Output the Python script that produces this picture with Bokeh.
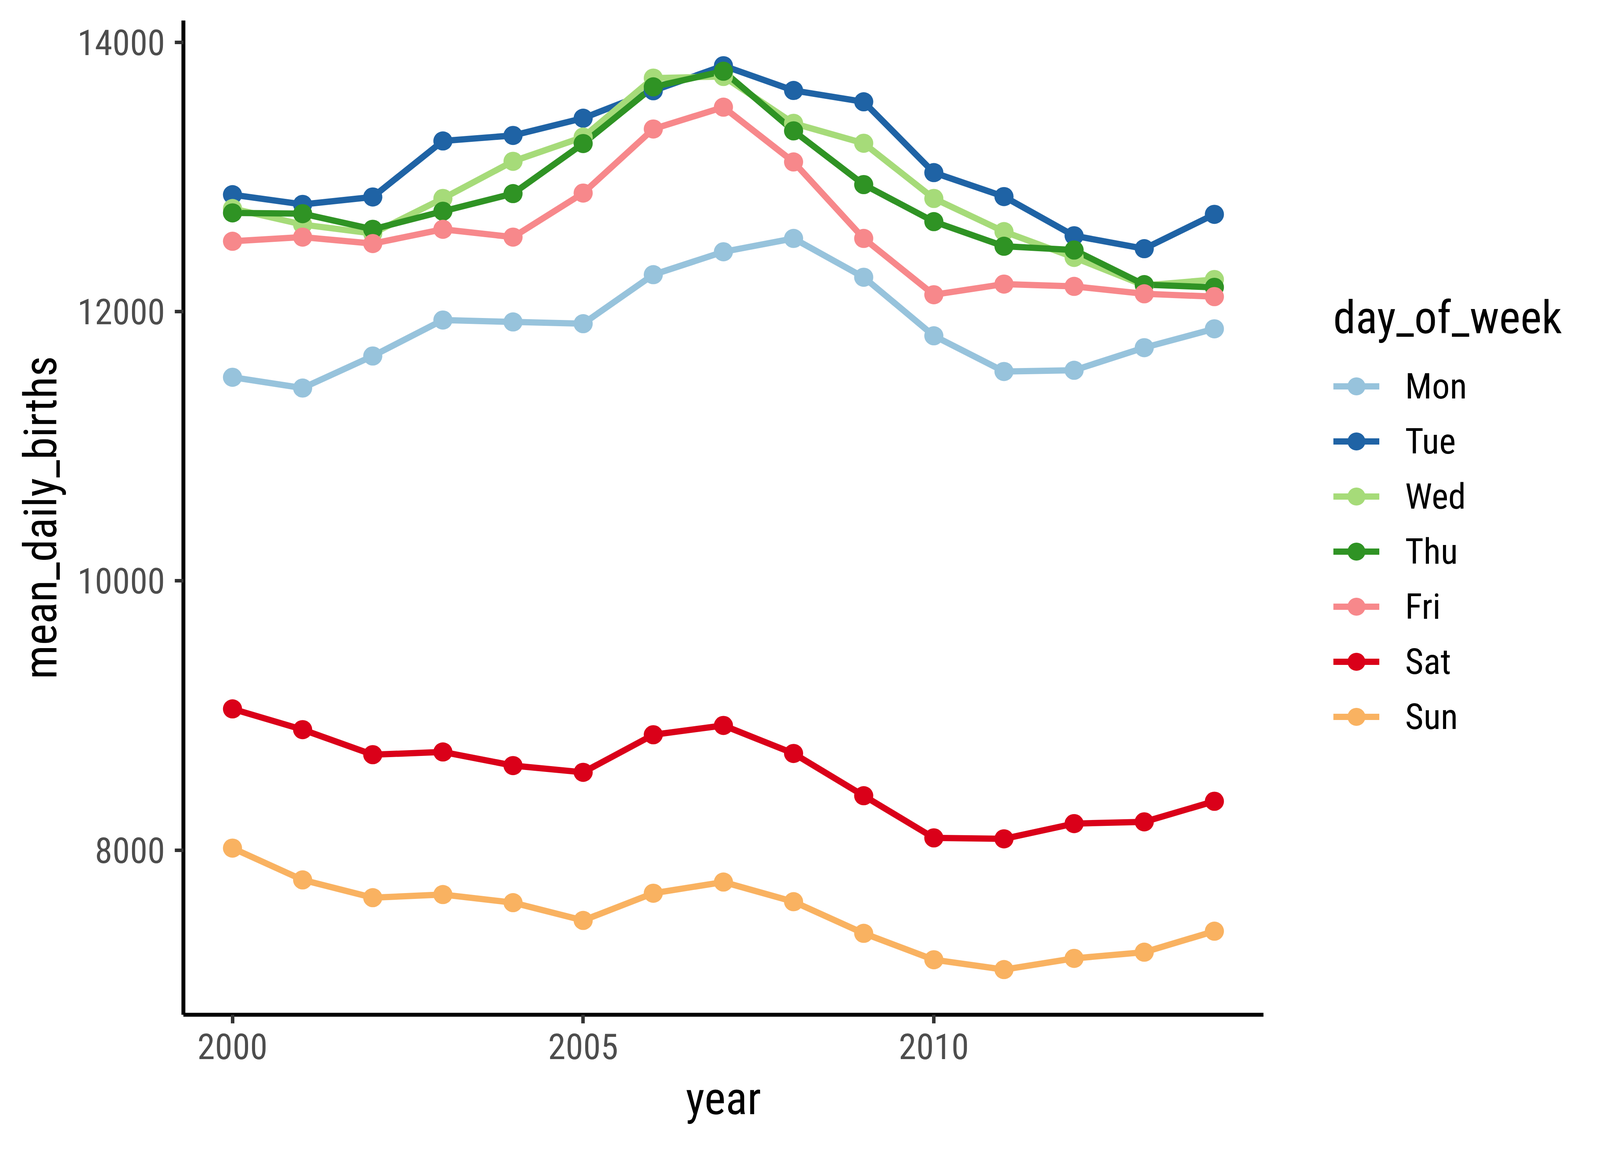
from bokeh.plotting import figure
from bokeh.models import Legend, LegendItem, Range1d, FixedTicker, BasicTickFormatter
from bokeh.embed import file_html
from bokeh.resources import INLINE

years = list(range(2000, 2015))
days = ["Mon", "Tue", "Wed", "Thu", "Fri", "Sat", "Sun"]
mon = [11512, 11432, 11670, 11937, 11923, 11910, 12274, 12444, 12543, 12255, 11820, 11555, 11564, 11732, 11872]
tue = [12868, 12796, 12851, 13267, 13308, 13436, 13640, 13826, 13642, 13558, 13032, 12854, 12563, 12467, 12722]
wed = [12765, 12646, 12580, 12840, 13116, 13296, 13734, 13746, 13398, 13250, 12840, 12594, 12402, 12194, 12238]
thu = [12733, 12727, 12611, 12745, 12876, 13248, 13669, 13785, 13342, 12943, 12668, 12485, 12457, 12200, 12180]
fri = [12522, 12553, 12505, 12611, 12553, 12880, 13356, 13518, 13111, 12543, 12125, 12204, 12187, 12132, 12111]
sat = [9049, 8895, 8709, 8729, 8628, 8578, 8857, 8926, 8718, 8404, 8091, 8084, 8197, 8210, 8363]
sun = [8015, 7779, 7647, 7670, 7610, 7478, 7680, 7763, 7617, 7382, 7186, 7113, 7196, 7242, 7398]
series = [mon, tue, wed, thu, fri, sat, sun]
colors = ["#97C3DC", "#1F63A5", "#A6DB79", "#2F9324", "#F7888B", "#DA0019", "#F9B261"]
x_ticks = [2000, 2005, 2010]
y_ticks = [8000, 10000, 12000, 14000]

FONT = "Roboto Condensed"

all_y = [v for s in series for v in s]
ymin, ymax = min(all_y), max(all_y)
yr = ymax - ymin
xr = max(years) - min(years)

p = figure(width=4184, height=2984, output_backend="svg", toolbar_location=None,
           x_range=Range1d(min(years) - 0.05 * xr, max(years) + 0.05 * xr),
           y_range=Range1d(ymin - 0.05 * yr, ymax + 0.05 * yr),
           min_border_left=469, min_border_right=950, min_border_top=52, min_border_bottom=387)
p.outline_line_color = None
p.grid.visible = False
p.background_fill_color = "white"
p.border_fill_color = "white"

for ax in (p.xaxis[0], p.yaxis[0]):
    ax.axis_line_color = "black"
    ax.axis_line_width = 10
    ax.major_tick_line_color = "#333333"
    ax.major_tick_line_width = 9
    ax.major_tick_out = 22
    ax.major_tick_in = 0
    ax.minor_tick_line_color = None
    ax.major_label_text_font = FONT
    ax.major_label_text_font_size = "91px"
    ax.major_label_text_color = "#4D4D4D"
    ax.axis_label_text_font = FONT
    ax.axis_label_text_font_size = "116px"
    ax.axis_label_text_font_style = "normal"
    ax.axis_label_text_color = "black"

p.xaxis.ticker = FixedTicker(ticks=x_ticks)
p.yaxis.ticker = FixedTicker(ticks=y_ticks)
p.yaxis.formatter = BasicTickFormatter(use_scientific=False)
p.xaxis.axis_label = "year"
p.yaxis.axis_label = "mean_daily_births"
p.xaxis.major_label_standoff = 26
p.yaxis.major_label_standoff = 25
p.xaxis.axis_label_standoff = 30
p.yaxis.axis_label_standoff = 23

line_rs = []
for s, c in zip(series, colors):
    line_rs.append(p.line(years, s, line_color=c, line_width=16))
pt_rs = []
for s, c in zip(series, colors):
    pt_rs.append(p.scatter(years, s, size=49, fill_color=c, line_color=None))

items = [LegendItem(label=d, renderers=[lr, pr]) for d, lr, pr in zip(days, line_rs, pt_rs)]
legend = Legend(items=items, location=(179, 705), title="day_of_week",
                title_text_font=FONT, title_text_font_size="116px", title_text_color="black",
                title_text_font_style="normal", title_standoff=50,
                label_text_font=FONT, label_text_font_size="91px", label_text_color="black",
                glyph_width=118, glyph_height=115, label_standoff=66, spacing=26,
                padding=0, margin=0, border_line_color=None, background_fill_alpha=0)
p.add_layout(legend, "right")

open("out.html", "w").write(file_html(p, INLINE))
